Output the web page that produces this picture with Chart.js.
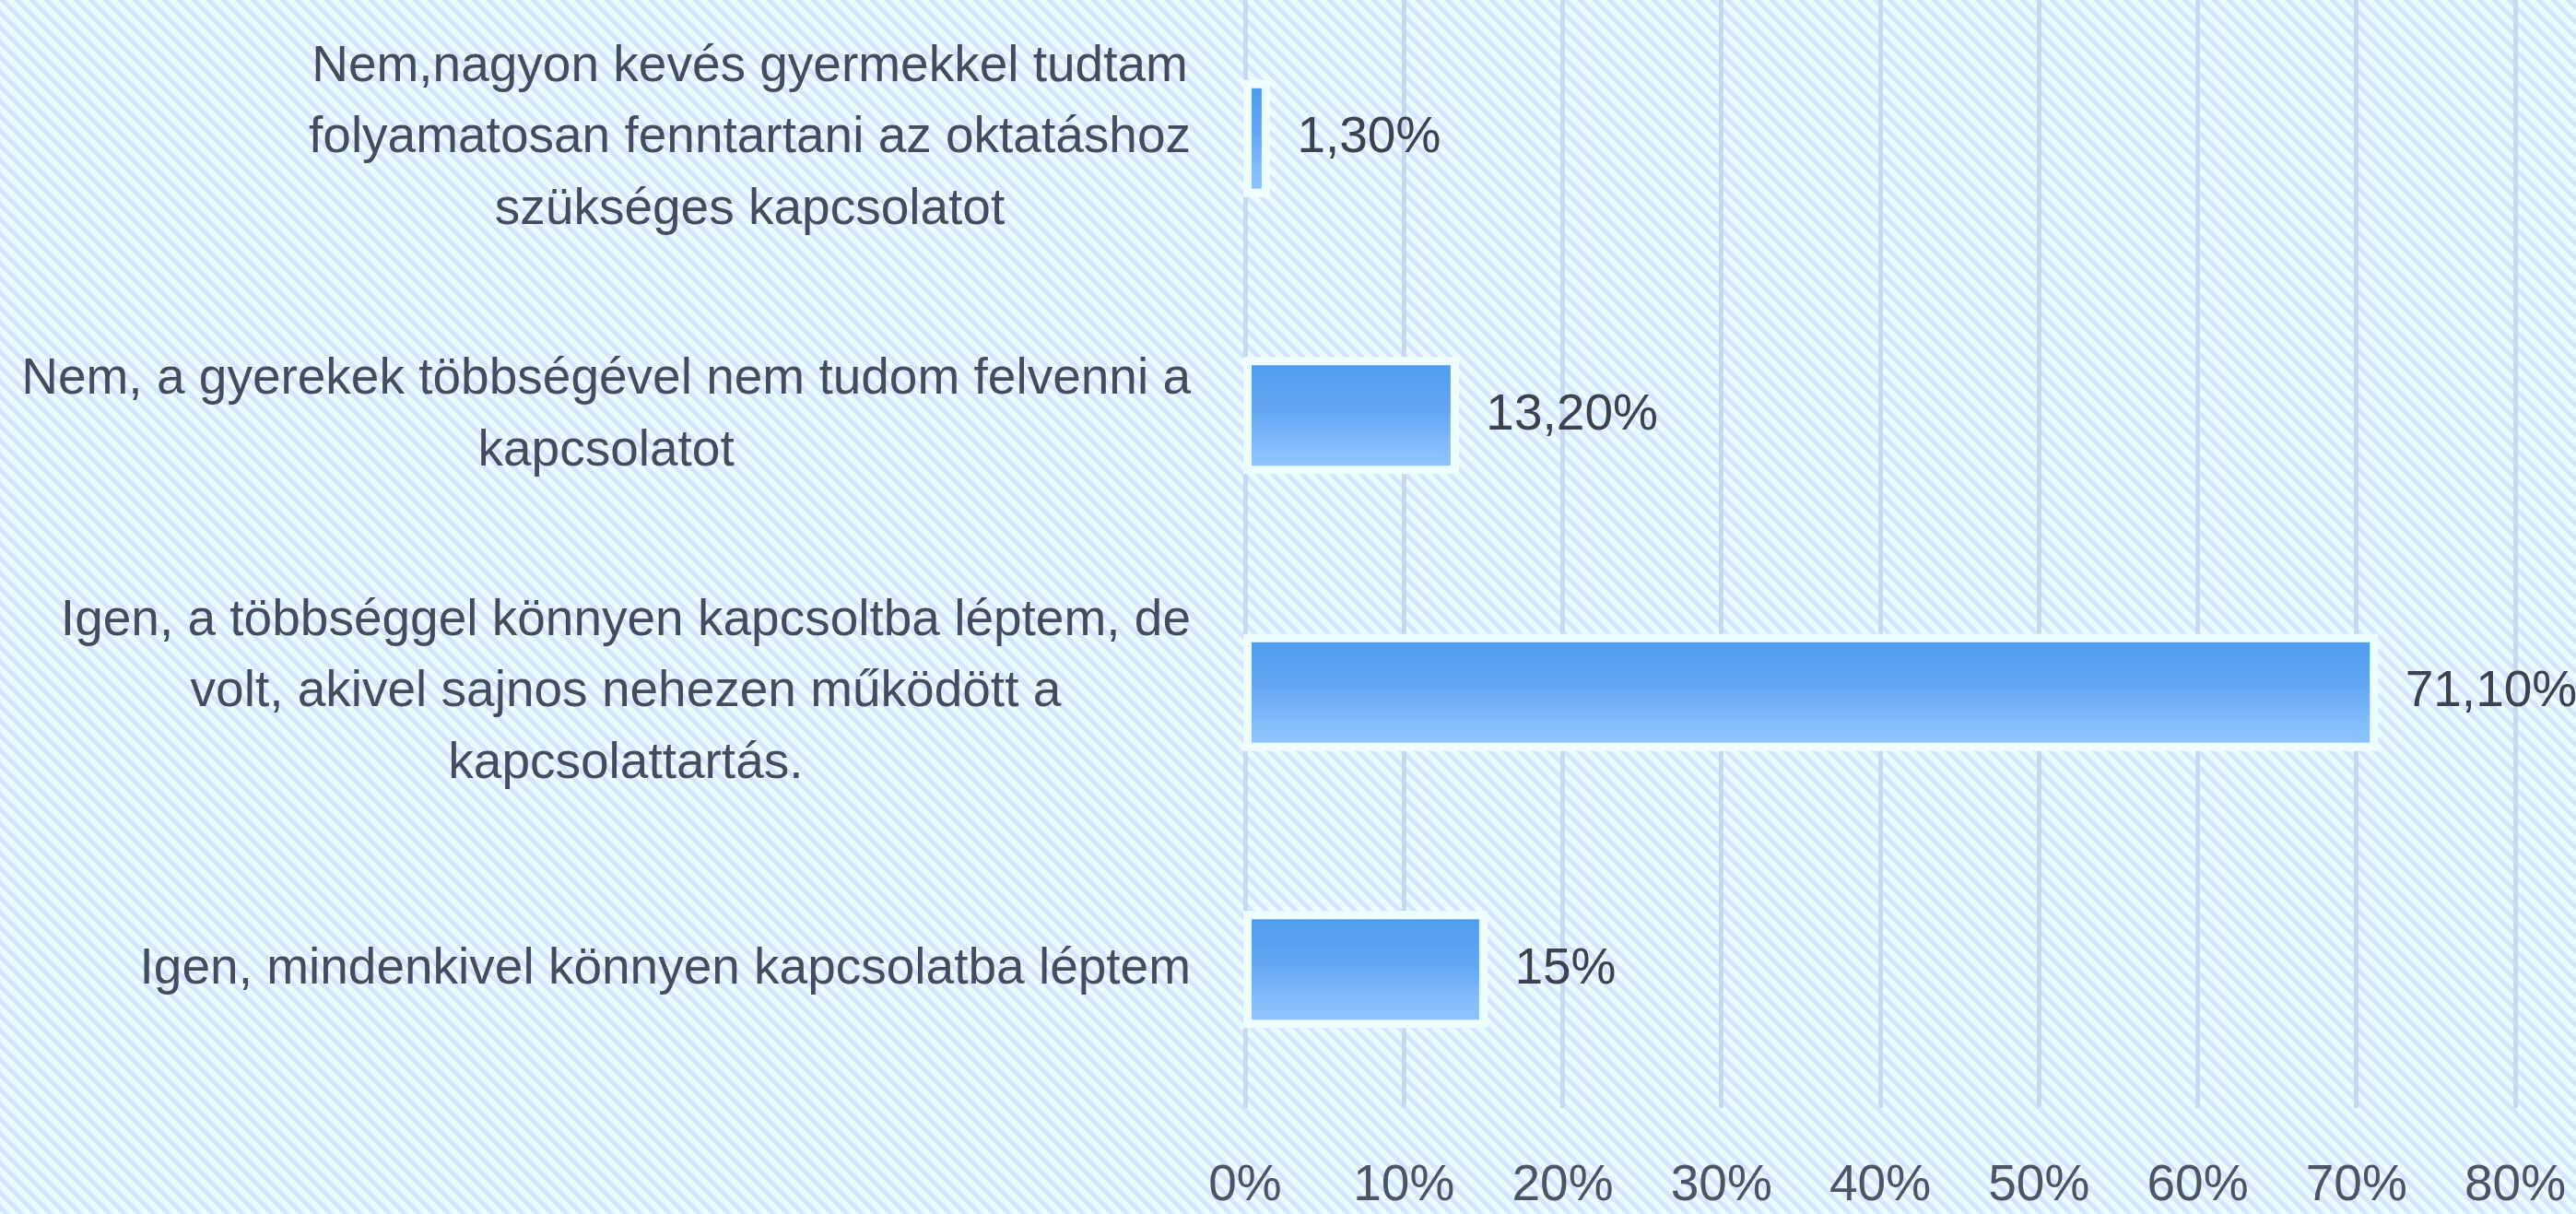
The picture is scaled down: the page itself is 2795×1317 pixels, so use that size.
<!DOCTYPE html>
<html>
<head>
<meta charset="utf-8">
<script src="https://cdn.jsdelivr.net/npm/chart.js@4/dist/chart.umd.min.js"></script>
<style>
  html, body { margin: 0; padding: 0; overflow: hidden; background: #e4f2fe; }
  canvas { display: block; }
</style>
</head>
<body>
<canvas id="c" width="2795" height="1317"></canvas>
<script>
// ---- data ----
const categories = [
  ['Nem,nagyon kevés gyermekkel tudtam', 'folyamatosan fenntartani az oktatáshoz', 'szükséges kapcsolatot'],
  ['Nem, a gyerekek többségével nem tudom felvenni a', 'kapcsolatot'],
  ['Igen, a többséggel könnyen kapcsoltba léptem, de', 'volt, akivel sajnos nehezen működött a', 'kapcsolattartás.'],
  ['Igen, mindenkivel könnyen kapcsolatba léptem']
];
const values = [1.3, 13.2, 71.1, 15];
const valueLabels = ['1,30%', '13,20%', '71,10%', '15%'];
const xTickMin = 0;
const xTickMax = 80;
const xTickStep = 10;
const xTickSuffix = '%';

// ---- style ----
const FONT = '"Liberation Sans", Arial, sans-serif';
const FS = 55;

function makePattern(ctx) {
  const t = document.createElement('canvas');
  t.width = 16; t.height = 16;
  const g = t.getContext('2d');
  g.fillStyle = '#ebfeff';
  g.fillRect(0, 0, 16, 16);
  g.fillStyle = '#d6e4fd';
  for (let y = 0; y < 16; y++) {
    const off = Math.floor(y / 2) * 2;
    for (let k = 0; k < 7; k++) {
      g.fillRect((off + k) % 16, y, 1, 1);
    }
  }
  return ctx.createPattern(t, 'repeat');
}

const bgPlugin = {
  id: 'bgPattern',
  beforeDraw(chart) {
    const ctx = chart.ctx;
    ctx.save();
    ctx.fillStyle = makePattern(ctx);
    ctx.fillRect(0, 0, chart.width, chart.height);
    ctx.restore();
  }
};

const decoPlugin = {
  id: 'deco',
  afterDatasetsDraw(chart) {
    const ctx = chart.ctx;
    const meta = chart.getDatasetMeta(0);
    ctx.save();
    ctx.strokeStyle = '#effeff';
    ctx.lineWidth = 9;
    meta.data.forEach((el) => {
      const left = Math.min(el.base, el.x);
      const w = Math.abs(el.x - el.base);
      ctx.strokeRect(left, el.y - el.height / 2, w, el.height);
    });
    ctx.fillStyle = '#3b4250';
    ctx.font = FS + 'px ' + FONT;
    ctx.textAlign = 'left';
    ctx.textBaseline = 'middle';
    meta.data.forEach((el, i) => {
      ctx.fillText(valueLabels[i], el.x + 34, el.y);
    });
    ctx.restore();
  },
  afterDraw(chart) {
    const ctx = chart.ctx;
    const ys = chart.scales.y;
    const right = 1292;
    const lh = 77.5;
    ctx.save();
    ctx.fillStyle = '#444d5f';
    ctx.font = FS + 'px ' + FONT;
    ctx.textAlign = 'center';
    ctx.textBaseline = 'middle';
    categories.forEach((lines, i) => {
      const yc = ys.getPixelForValue(i);
      let maxW = 0;
      lines.forEach(l => { maxW = Math.max(maxW, ctx.measureText(l).width); });
      const cx = right - maxW / 2;
      const y0 = yc - (lines.length - 1) / 2 * lh;
      lines.forEach((l, j) => ctx.fillText(l, cx, y0 + j * lh));
    });
    ctx.restore();
  }
};

const ctx = document.getElementById('c').getContext('2d');
new Chart(ctx, {
  type: 'bar',
  data: {
    labels: categories,
    datasets: [{
      data: values,
      barThickness: 118,
      borderWidth: 0,
      backgroundColor: (c) => {
        const ch = c.chart;
        const ys = ch.scales && ch.scales.y;
        if (!ys || c.dataIndex === undefined) return '#6aaef5';
        const yc = ys.getPixelForValue(c.dataIndex);
        if (!isFinite(yc)) return '#6aaef5';
        const g = ch.ctx.createLinearGradient(0, yc - 59, 0, yc + 59);
        g.addColorStop(0, '#4e9aee');
        g.addColorStop(0.45, '#62a7f3');
        g.addColorStop(0.75, '#80bbfb');
        g.addColorStop(1, '#90c6ff');
        return g;
      }
    }]
  },
  options: {
    indexAxis: 'y',
    responsive: false,
    animation: false,
    devicePixelRatio: 1,
    layout: { padding: { top: -5, right: 66, left: 0, bottom: 0 } },
    plugins: {
      legend: { display: false },
      tooltip: { enabled: false },
      title: { display: false }
    },
    scales: {
      x: {
        min: xTickMin,
        max: xTickMax,
        border: { display: false },
        grid: { color: '#c8d8f2', lineWidth: 5, drawTicks: false },
        ticks: {
          stepSize: xTickStep,
          padding: 52,
          maxRotation: 0,
          color: '#4c5566',
          font: { family: FONT, size: FS },
          callback: (v) => v + xTickSuffix
        },
        afterFit: (scale) => {
          scale.height = 115;
          scale.paddingLeft = 0;
          scale.paddingRight = 0;
        }
      },
      y: {
        border: { display: false },
        grid: { display: false },
        ticks: { display: false },
        afterFit: (scale) => { scale.width = 1351; }
      }
    }
  },
  plugins: [bgPlugin, decoPlugin]
});
</script>
</body>
</html>
